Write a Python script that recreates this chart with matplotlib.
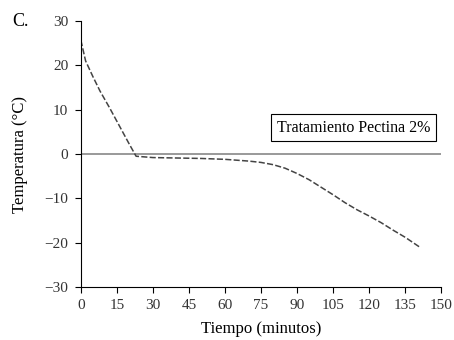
import matplotlib
matplotlib.use('Agg')
import matplotlib.pyplot as plt

# Cooling curve
tiempo = [0, 2, 5, 8, 12, 16, 20, 23, 30, 40, 50, 60, 70, 75, 80, 85, 90,
          95, 100, 105, 110, 115, 120, 125, 130, 135, 141]
temperatura = [25.7, 21, 17.5, 14.2, 10.4, 6.4, 2.4, -0.5, -0.8, -0.9, -1.0, -1.2,
               -1.6, -1.9, -2.4, -3.2, -4.4, -5.8, -7.5, -9.2, -11, -12.6, -14,
               -15.5, -17.2, -18.8, -21]
xticks = list(range(0, 151, 15))
yticks = list(range(-30, 31, 10))

plt.rcParams['font.family'] = ['Liberation Serif', 'DejaVu Serif']

fig = plt.figure(figsize=(4.54, 3.4), dpi=100)
ax = fig.add_axes([0.178, 0.156, 0.794, 0.782])

ax.axhline(0, color='#888888', linewidth=1.2)
ax.plot(tiempo, temperatura, color='#444444', linestyle=(0, (4, 1.5)), linewidth=1.1)

ax.set_xlim(0, 150)
ax.set_ylim(-30, 30)
ax.set_xticks(xticks)
ax.set_yticks(yticks)
ax.tick_params(direction='out', length=4, width=0.8, labelsize=11,
               labelcolor='#333333', pad=5)
for s in ['top', 'right']:
    ax.spines[s].set_visible(False)
for s in ['left', 'bottom']:
    ax.spines[s].set_linewidth(0.8)

ax.set_xlabel('Tiempo (minutos)', fontsize=12, labelpad=6)
ax.set_ylabel('Temperatura (°C)', fontsize=12, labelpad=12)

ax.text(81.5, 5.9, 'Tratamiento Pectina 2%', fontsize=11.5, va='center', ha='left',
        bbox=dict(boxstyle='square,pad=0.35', facecolor='white', edgecolor='black', linewidth=0.8))

fig.text(0.026, 0.925, 'C.', fontsize=13)

fig.savefig('out.png', dpi=100)
